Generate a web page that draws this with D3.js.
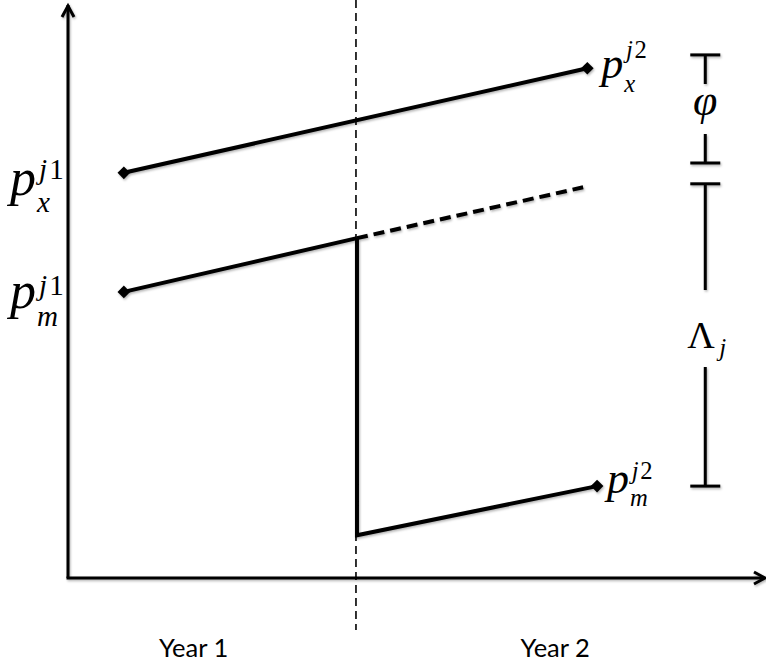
<!DOCTYPE html>
<html>
<head>
<meta charset="utf-8">
<script src="https://cdn.jsdelivr.net/npm/d3@7/dist/d3.min.js"></script>
<style>
  html, body { margin: 0; padding: 0; background: #fff; }
  svg { display: block; }
</style>
</head>
<body>
<svg id="chart" width="766" height="665"></svg>
<script>
// ---------------- DATA (schematic units) ----------------
// time axis: 0 = origin, boundary between years at 4.14
const yearLabels = ["Year 1", "Year 2"];
const yearLabelT = [1.80, 6.98];
const boundaryT = 4.14;

// export price line (p_x): year 1 start -> year 2 end
const pxT = [0.80, 7.44];
const pxV = [70.1, 88.2];

// import price line (p_m), year 1 (solid) until boundary
const pmT = [0.80, 4.14];
const pmV = [49.5, 58.8];

// counterfactual continuation of p_m (dashed)
const pmCfT = [4.14, 7.38];
const pmCfV = [58.8, 67.6];

// actual p_m in year 2 after the drop
const pm2T = [4.14, 7.58];
const pm2V = [7.4, 15.9];

// brackets: [label, top value, bottom value]
const bracketNames = ["φ", "Λ"];
const bracketTop = [90.5, 68.2];
const bracketBottom = [71.8, 15.9];
const bracketT = 9.13;

// ---------------- SETUP ----------------
const svg = d3.select("#chart");
const W = 766, H = 665;
const x = d3.scaleLinear().domain([0, 10]).range([68, 766]);
const y = d3.scaleLinear().domain([0, 100]).range([578, 0]);

const defs = svg.append("defs");
const f = defs.append("filter").attr("id", "sh").attr("x", "-20%").attr("y", "-20%").attr("width", "140%").attr("height", "140%");
f.append("feDropShadow").attr("dx", 1).attr("dy", 1.5).attr("stdDeviation", 1.2).attr("flood-color", "#000").attr("flood-opacity", 0.3);

const line = d3.line().x(d => x(d[0])).y(d => y(d[1]));
const zip = (ts, vs) => ts.map((t, i) => [t, vs[i]]);

// ---------------- AXES ----------------
const axes = svg.append("g").attr("filter", "url(#sh)");
// y axis
axes.append("line").attr("x1", x(0)).attr("x2", x(0)).attr("y1", y(0)).attr("y2", 5)
  .attr("stroke", "#000").attr("stroke-width", 3);
axes.append("path").attr("d", `M${x(0)-6},17 L${x(0)},6 L${x(0)+6},17`)
  .attr("fill", "none").attr("stroke", "#000").attr("stroke-width", 3);
// x axis
axes.append("line").attr("x1", x(0) - 1.5).attr("x2", W - 2).attr("y1", y(0)).attr("y2", y(0))
  .attr("stroke", "#000").attr("stroke-width", 3);
axes.append("path").attr("d", `M${W-12},${y(0)-6} L${W-1},${y(0)} L${W-12},${y(0)+6}`)
  .attr("fill", "none").attr("stroke", "#000").attr("stroke-width", 3);

// boundary dashed line
svg.append("line").attr("x1", x(boundaryT) - 1).attr("x2", x(boundaryT) - 1)
  .attr("y1", 0).attr("y2", 630)
  .attr("stroke", "#000").attr("stroke-width", 1.6).attr("stroke-dasharray", "8,5");

// year labels
svg.selectAll("text.year").data(yearLabels).join("text")
  .attr("class", "year")
  .attr("x", (d, i) => x(yearLabelT[i]))
  .attr("y", 657)
  .attr("text-anchor", "middle")
  .attr("font-family", "Lato, 'Open Sans', sans-serif")
  .attr("font-size", 25.5)
  .attr("fill", "#000")
  .text(d => d);

// ---------------- LINES ----------------
const lines = svg.append("g").attr("filter", "url(#sh)");
lines.append("path").attr("d", line(zip(pxT, pxV)))
  .attr("fill", "none").attr("stroke", "#000").attr("stroke-width", 4);
lines.append("path").attr("d", line(zip(pmT, pmV)))
  .attr("fill", "none").attr("stroke", "#000").attr("stroke-width", 4);
lines.append("path").attr("d", line(zip(pmCfT, pmCfV)))
  .attr("fill", "none").attr("stroke", "#000").attr("stroke-width", 4)
  .attr("stroke-dasharray", "11,6");
// drop + year 2 import line
lines.append("path").attr("d", line([[pmT[1], pmV[1]], [pm2T[0], pm2V[0]], [pm2T[1], pm2V[1]]]))
  .attr("fill", "none").attr("stroke", "#000").attr("stroke-width", 4)
  .attr("stroke-linejoin", "miter");

// diamonds
const markerPts = [
  [pxT[0], pxV[0]], [pxT[1], pxV[1]],
  [pmT[0], pmV[0]], [pm2T[1], pm2V[1]]
];
lines.selectAll("path.mk").data(markerPts).join("path")
  .attr("class", "mk")
  .attr("d", d3.symbol(d3.symbolSquare, 80)())
  .attr("transform", d => `translate(${x(d[0])},${y(d[1])}) rotate(45)`)
  .attr("fill", "#000");

// ---------------- BRACKETS ----------------
const br = svg.append("g").attr("filter", "url(#sh)");
const bx = x(bracketT);
const capW = 15;
function bracket(top, bottom, gapTop, gapBottom) {
  const yt = y(top), yb = y(bottom);
  br.append("line").attr("x1", bx - capW).attr("x2", bx + capW).attr("y1", yt).attr("y2", yt)
    .attr("stroke", "#000").attr("stroke-width", 3);
  br.append("line").attr("x1", bx - capW).attr("x2", bx + capW).attr("y1", yb).attr("y2", yb)
    .attr("stroke", "#000").attr("stroke-width", 3);
  br.append("line").attr("x1", bx).attr("x2", bx).attr("y1", yt).attr("y2", gapTop)
    .attr("stroke", "#000").attr("stroke-width", 3);
  br.append("line").attr("x1", bx).attr("x2", bx).attr("y1", gapBottom).attr("y2", yb)
    .attr("stroke", "#000").attr("stroke-width", 3);
}
bracket(bracketTop[0], bracketBottom[0], 84, 134);
bracket(bracketTop[1], bracketBottom[1], 290, 367);

const serif = "'Liberation Serif', 'DejaVu Serif', serif";
// φ
svg.append("text").attr("x", bx).attr("y", 115).attr("text-anchor", "middle")
  .attr("font-family", serif).attr("font-style", "italic").attr("font-size", 44)
  .text(bracketNames[0]);
// Λ_j
svg.append("text").attr("x", bx - 18).attr("y", 348)
  .attr("font-family", serif).attr("font-size", 38)
  .text(bracketNames[1]);
svg.append("text").attr("x", bx + 14).attr("y", 356)
  .attr("font-family", serif).attr("font-style", "italic").attr("font-size", 25)
  .text("j");

// ---------------- MATH LABELS ----------------
function mathLabel(x0, y0, sub, sup, size, supDy, subDy) {
  const g = svg.append("g").attr("font-family", serif).attr("fill", "#000");
  g.append("text").attr("x", x0).attr("y", y0).attr("font-size", size)
    .attr("font-style", "italic").text("p");
  const sx = x0 + size * 0.52;
  const ss = size * 0.56;
  const t = g.append("text").attr("x", sx + size * 0.04).attr("y", y0 - supDy).attr("font-size", ss);
  t.append("tspan").attr("font-style", "italic").text("j");
  t.append("tspan").attr("dx", size * 0.04).text(sup);
  g.append("text").attr("x", sx).attr("y", y0 + subDy).attr("font-size", ss)
    .attr("font-style", "italic").text(sub);
}
mathLabel(10, y(pxV[0]) + 22, "x", "1", 52, 16, 17);
mathLabel(10, y(pmV[0]) + 16, "m", "1", 52, 13, 18);
mathLabel(x(pxT[1]) + 14, y(pxV[1]) + 10, "x", "2", 44, 20, 14);
mathLabel(x(pm2T[1]) + 10, y(pm2V[1]) + 7, "m", "2", 44, 14, 13);
</script>
</body>
</html>
